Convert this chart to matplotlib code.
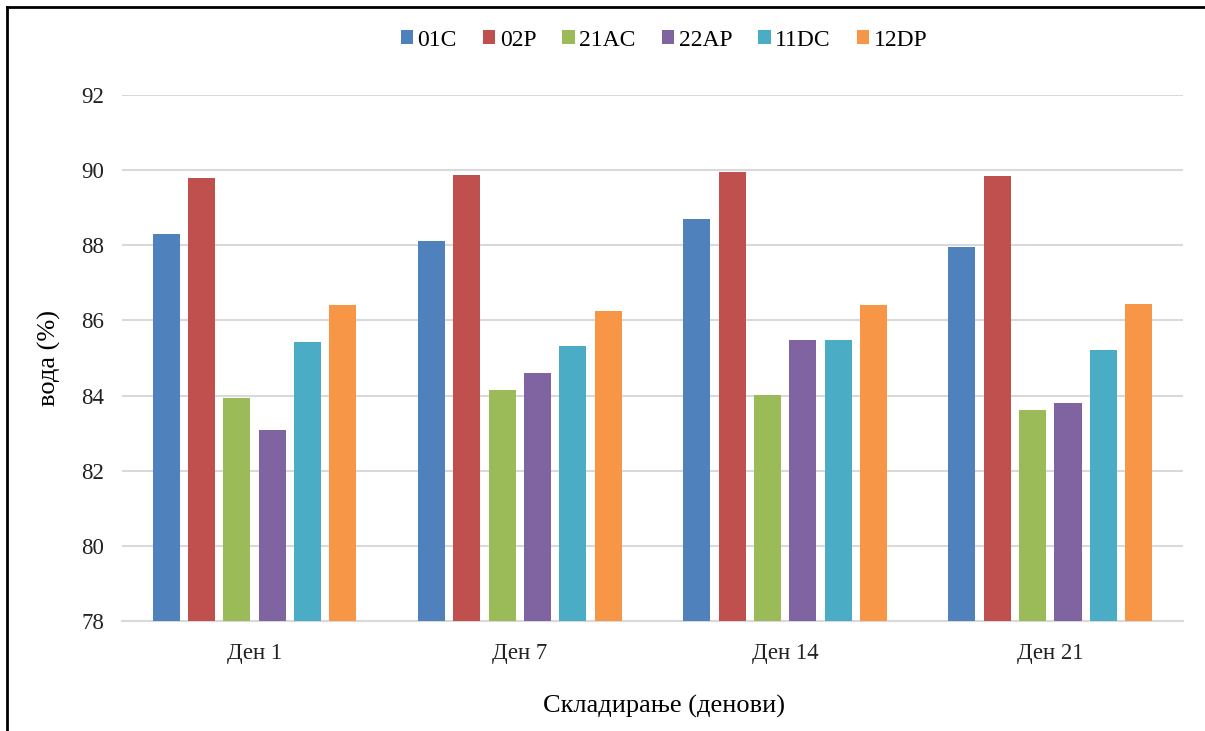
import numpy as np
import matplotlib.pyplot as plt
from matplotlib.lines import Line2D

plt.rcParams['font.family'] = ['Liberation Serif', 'DejaVu Serif']

days = ['Ден 1', 'Ден 7', 'Ден 14', 'Ден 21']
series = ['01C', '02P', '21AC', '22AP', '11DC', '12DP']
colors = ['#4F81BD', '#C0504D', '#9BBB59', '#8064A2', '#4BACC6', '#F79646']

v_01C = [88.30, 88.11, 88.70, 87.96]
v_02P = [89.79, 89.87, 89.95, 89.84]
v_21AC = [83.94, 84.15, 84.02, 83.62]
v_22AP = [83.08, 84.60, 85.48, 83.80]
v_11DC = [85.43, 85.32, 85.48, 85.21]
v_12DP = [86.41, 86.25, 86.41, 86.44]
values = [v_01C, v_02P, v_21AC, v_22AP, v_11DC, v_12DP]


def main():
    fig = plt.figure(figsize=(12.05, 7.31), dpi=100)
    ax = fig.add_axes([0.1012, 0.1505, 0.8805, 0.7196])

    x = np.arange(len(days))
    step = 0.1333
    width = 0.102
    for i, (name, vals) in enumerate(zip(series, values)):
        ax.bar(x + (i - 2.5) * step, vals, width, bottom=0, color=colors[i],
               label=name, zorder=3)

    ax.set_ylim(78, 92)
    ax.set_xlim(-0.5, 3.5)
    ax.set_yticks(np.arange(78, 93, 2))
    ax.set_xticks(x)
    ax.set_xticklabels(days)
    ax.tick_params(length=0, labelsize=16.5, colors='#222222')
    ax.tick_params(axis='y', pad=13)
    ax.tick_params(axis='x', pad=16)
    ax.grid(axis='y', color='#d9d9d9', linewidth=1.5, zorder=0)
    for s in ['top', 'right', 'left']:
        ax.spines[s].set_visible(False)
    ax.spines['bottom'].set_color('#d9d9d9')
    ax.spines['bottom'].set_linewidth(1.5)

    ax.set_ylabel('вода (%)', fontsize=19, labelpad=14)
    ax.set_xlabel('Складирање (денови)', fontsize=19)
    ax.xaxis.set_label_coords(0.511, -0.141)

    ax.legend(loc='center', bbox_to_anchor=(0.511, 1.104), ncol=6, frameon=False,
              fontsize=17, handlelength=0.52, handleheight=0.52,
              handletextpad=0.2, columnspacing=1.1)

    # frame lines along the left and top edges
    fig.add_artist(Line2D([7 / 1205, 7 / 1205], [0, 1 - 7 / 731],
                          transform=fig.transFigure, color='black', lw=2))
    fig.add_artist(Line2D([7 / 1205, 1], [1 - 7 / 731, 1 - 7 / 731],
                          transform=fig.transFigure, color='black', lw=2))

    plt.savefig('out.png', dpi=100)


if __name__ == '__main__':
    main()
